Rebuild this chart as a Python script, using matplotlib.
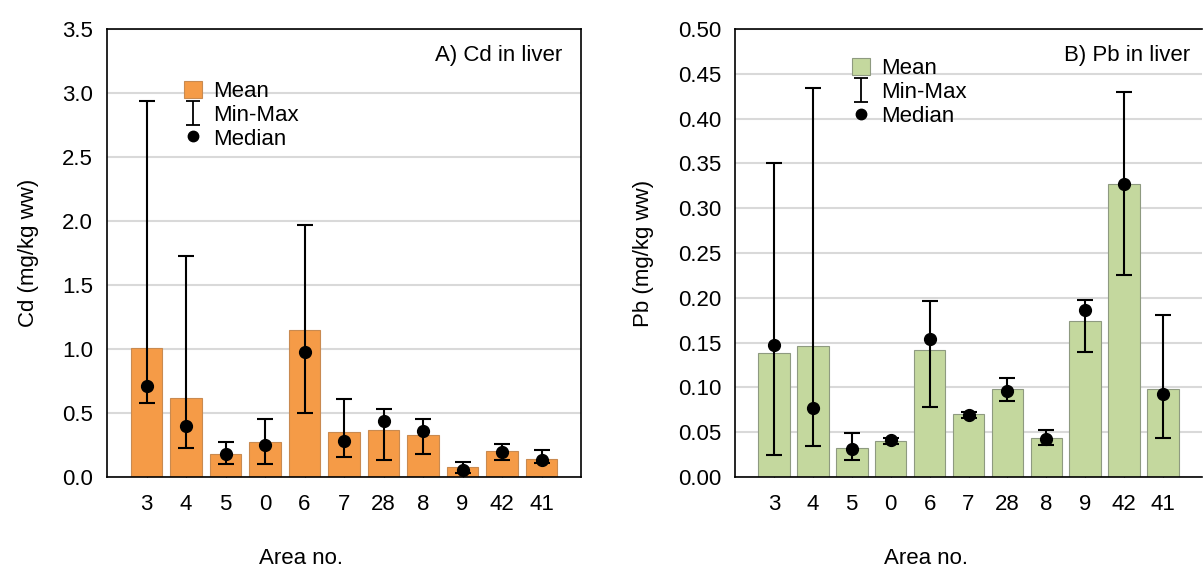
import matplotlib
matplotlib.use("Agg")
import matplotlib.pyplot as plt
from matplotlib.patches import Patch
from matplotlib.lines import Line2D
from matplotlib.path import Path
import numpy as np

plt.rcParams['font.family'] = ['Liberation Sans', 'DejaVu Sans']

# -----------------------------------------------------------------------------
# Data
# -----------------------------------------------------------------------------

areas = ["3", "4", "5", "0", "6", "7", "28", "8", "9", "42", "41"]

cd_mean   = [1.01, 0.62, 0.18, 0.27, 1.15, 0.35, 0.37, 0.33, 0.08, 0.20, 0.14]
cd_median = [0.71, 0.40, 0.18, 0.25, 0.98, 0.28, 0.44, 0.36, 0.055, 0.195, 0.135]
cd_min    = [0.58, 0.23, 0.10, 0.10, 0.50, 0.16, 0.13, 0.18, 0.03, 0.13, 0.11]
cd_max    = [2.94, 1.73, 0.27, 0.45, 1.97, 0.61, 0.53, 0.45, 0.117, 0.26, 0.21]

pb_mean   = [0.138, 0.146, 0.032, 0.040, 0.142, 0.070, 0.098, 0.044, 0.174, 0.327, 0.098]
pb_median = [0.147, 0.077, 0.031, 0.041, 0.154, 0.069, 0.096, 0.042, 0.186, 0.327, 0.093]
pb_min    = [0.025, 0.035, 0.019, 0.037, 0.078, 0.066, 0.085, 0.036, 0.140, 0.226, 0.043]
pb_max    = [0.350, 0.434, 0.049, 0.044, 0.196, 0.073, 0.111, 0.053, 0.197, 0.430, 0.181]

# I-beam marker for the Min-Max legend entry
ibeam = Path([(-0.6, -1), (0.6, -1), (0, -1), (0, 1), (-0.6, 1), (0.6, 1)],
             [Path.MOVETO, Path.LINETO, Path.MOVETO, Path.LINETO, Path.MOVETO, Path.LINETO])

fs = 16

def panel(ax, mean, median, vmin, vmax, color, edge, ylim, ystep, yfmt,
          ylabel, title, legpos):
    x = np.arange(1, len(areas) + 1)
    ax.bar(x, mean, width = 0.81, color = color, edgecolor = edge, linewidth = 0.8, zorder = 2)
    med = np.array(median)
    yerr = [med - np.array(vmin), np.array(vmax) - med]
    ax.errorbar(x, med, yerr = yerr, fmt = 'o', color = 'black', ecolor = 'black',
                markersize = 8.5, elinewidth = 1.5, capsize = 6, capthick = 1.5, zorder = 3)

    ax.set_xlim(0, len(areas) + 1)
    ax.set_ylim(*ylim)
    ax.set_xticks(x)
    ax.set_xticklabels(areas)
    yt = np.arange(ylim[0], ylim[1] + ystep / 2, ystep)
    ax.set_yticks(yt)
    ax.set_yticklabels([yfmt.format(v) for v in yt])
    ax.yaxis.grid(True, color = '#d9d9d9', linewidth = 1.5, zorder = 0)
    ax.set_axisbelow(True)

    ax.tick_params(axis = 'x', direction = 'in', length = 4, pad = 12, labelsize = fs)
    ax.tick_params(axis = 'y', direction = 'in', length = 0, pad = 10, labelsize = fs)
    for s in ax.spines.values():
        s.set_linewidth(1.2)

    ax.set_ylabel(ylabel, fontsize = fs, labelpad = 17)
    ax.set_xlabel("Area no.", fontsize = fs)
    ax.xaxis.set_label_coords(0.41, -0.158)

    ax.text(0.96, 0.94, title, transform = ax.transAxes, ha = 'right', va = 'center', fontsize = fs)

    handles = [Patch(facecolor = color, edgecolor = edge, linewidth = 0.8),
               Line2D([], [], marker = ibeam, linestyle = 'none', color = 'black',
                      markersize = 17, markeredgewidth = 1.3, markerfacecolor = 'none'),
               Line2D([], [], marker = 'o', linestyle = 'none', color = 'black', markersize = 7.5)]
    ax.legend(handles, ["Mean", "Min-Max", "Median"], loc = 'upper left',
              bbox_to_anchor = legpos, frameon = False, fontsize = fs,
              borderpad = 0, borderaxespad = 0, handlelength = 0.8, handleheight = 0.8,
              handletextpad = 0.5, labelspacing = 0.12)


fig = plt.figure(figsize = (12.03, 5.69), dpi = 100)
ax1 = fig.add_axes([107 / 1203, 92 / 569, 474 / 1203, 448 / 569])
ax2 = fig.add_axes([735 / 1203, 92 / 569, 467 / 1203, 448 / 569])

panel(ax1, cd_mean, cd_median, cd_min, cd_max, '#f59b47', '#c98a50',
      (0, 3.5), 0.5, "{:.1f}", "Cd (mg/kg ww)", "A) Cd in liver", (0.163, 0.885))
panel(ax2, pb_mean, pb_median, pb_min, pb_max, '#c4d89e', '#8e9a80',
      (0, 0.5), 0.05, "{:.2f}", "Pb (mg/kg ww)", "B) Pb in liver", (0.25, 0.935))
ax2.spines['right'].set_visible(False)
ax2.texts[0].set_x(0.975)

fig.savefig("out.png", dpi = 100)
